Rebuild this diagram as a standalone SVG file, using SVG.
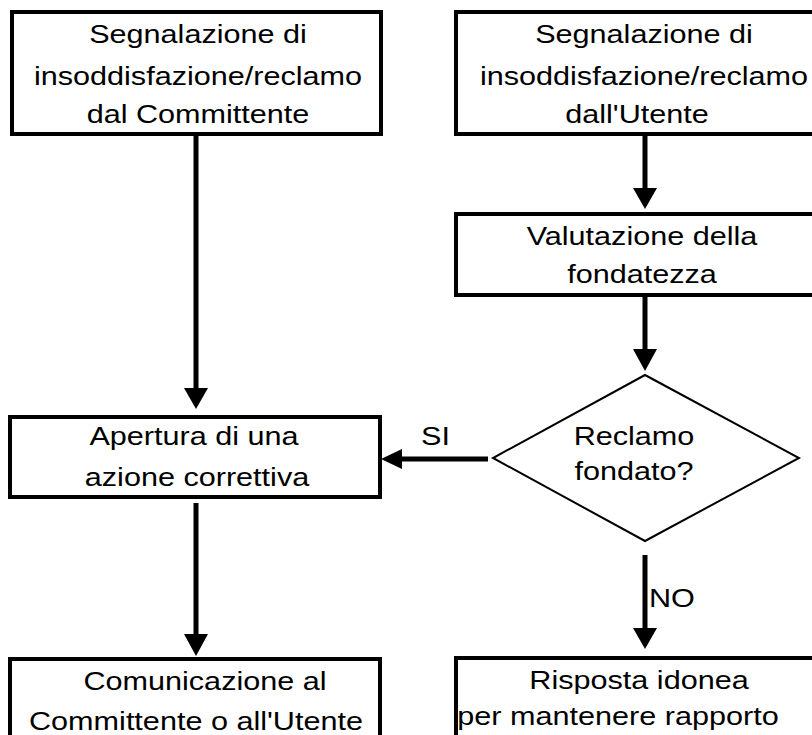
<svg xmlns="http://www.w3.org/2000/svg" width="812" height="735" viewBox="0 0 812 735">
<style>
.box{fill:#fff;stroke:#000;stroke-width:4}
.dia{fill:#fff;stroke:#000;stroke-width:2}
.t{font-family:"Liberation Sans",Arial,sans-serif;font-size:25.5px;fill:#000;text-anchor:middle}
.tl{text-anchor:start}
.c{stroke:#000;stroke-width:5;fill:none}
.ah{fill:#000}
</style>
<rect width="812" height="735" fill="#fff"/>
<g id="connectors">
<line class="c" x1="196" y1="134" x2="196" y2="392"/>
<polygon class="ah" points="184,388 208,388 196,409"/>
<line class="c" x1="196" y1="503" x2="196" y2="638"/>
<polygon class="ah" points="184,634 208,634 196,656"/>
<line class="c" x1="645" y1="134" x2="645" y2="192"/>
<polygon class="ah" points="633,188 657,188 645,209"/>
<line class="c" x1="645" y1="295" x2="645" y2="353"/>
<polygon class="ah" points="633,349 657,349 645,371"/>
<line class="c" x1="488" y1="459" x2="398" y2="459"/>
<polygon class="ah" points="402,449 402,469 381,459"/>
<line class="c" x1="645" y1="555" x2="645" y2="632"/>
<polygon class="ah" points="633,628 657,628 645,649"/>
<text class="t" transform="translate(435.5,445) scale(1.2 1)">SI</text>
<text class="t tl" transform="translate(649,607) scale(1.2 1)">NO</text>
</g>
<g id="n1">
<rect class="box" x="12" y="12" width="369" height="122"/>
<text class="t" transform="translate(198,43) scale(1.2 1)">Segnalazione di</text>
<text class="t" transform="translate(198,85) scale(1.2 1)">insoddisfazione/reclamo</text>
<text class="t" transform="translate(198,123) scale(1.2 1)">dal Committente</text>
</g>
<g id="n2">
<rect class="box" x="456" y="12" width="380" height="122"/>
<text class="t" transform="translate(644,43) scale(1.2 1)">Segnalazione di</text>
<text class="t" transform="translate(644,85) scale(1.2 1)">insoddisfazione/reclamo</text>
<text class="t" transform="translate(637,123) scale(1.2 1)">dall'Utente</text>
</g>
<g id="n3">
<rect class="box" x="456" y="214" width="380" height="81"/>
<text class="t" transform="translate(642,245) scale(1.2 1)">Valutazione della</text>
<text class="t" transform="translate(642,283) scale(1.2 1)">fondatezza</text>
</g>
<g id="n4">
<polygon class="dia" points="645,375 799,458 645,541 493,458"/>
<text class="t" transform="translate(634,445) scale(1.2 1)">Reclamo</text>
<text class="t" transform="translate(634,480) scale(1.2 1)">fondato?</text>
</g>
<g id="n5">
<rect class="box" x="10" y="417" width="370" height="80"/>
<text class="t" transform="translate(194,445) scale(1.2 1)">Apertura di una</text>
<text class="t" transform="translate(197,486) scale(1.2 1)">azione correttiva</text>
</g>
<g id="n6">
<rect class="box" x="10" y="659" width="370" height="100"/>
<text class="t" transform="translate(205,690) scale(1.2 1)">Comunicazione al</text>
<text class="t" transform="translate(196,730) scale(1.2 1)">Committente o all'Utente</text>
</g>
<g id="n7">
<rect class="box" x="456" y="658" width="380" height="100"/>
<text class="t" transform="translate(639,689) scale(1.2 1)">Risposta idonea</text>
<text class="t" transform="translate(618,725) scale(1.2 1)">per mantenere rapporto</text>
</g>
</svg>
